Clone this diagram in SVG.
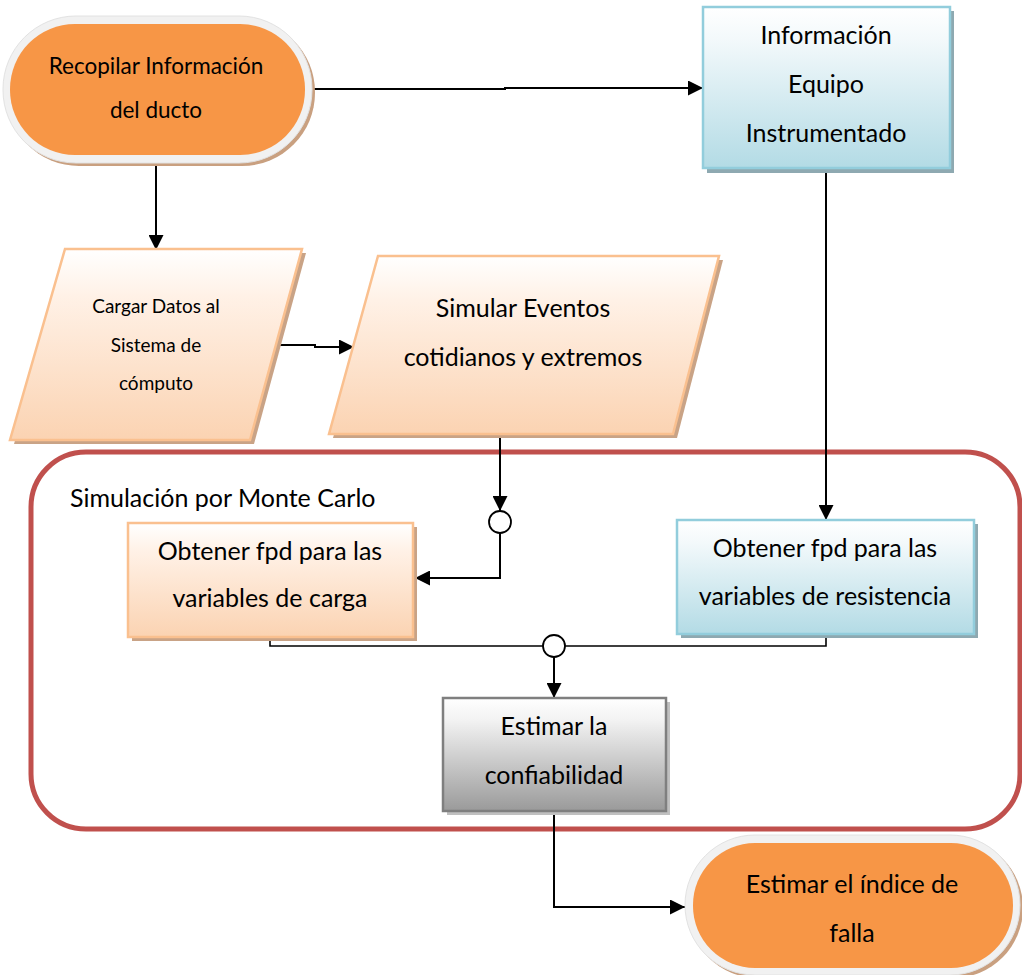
<svg xmlns="http://www.w3.org/2000/svg" width="1022" height="975" viewBox="0 0 1022 975">
  <style>
    .t { font-family: Lato, "Open Sans", "Liberation Sans", sans-serif; fill: #000; text-anchor: middle; }
    .big { font-size: 25px; }
    .mid { font-size: 22.5px; }
    .small { font-size: 19px; }
    .line { fill: none; stroke: #000; stroke-width: 2; }
    .thin { fill: none; stroke: #000; stroke-width: 1.6; }
    .join { fill: #fff; stroke: #000; stroke-width: 1.8; }
    .ring { fill: #f1f1f1; stroke: #e2e2e2; stroke-width: 1; }
    .term { fill: #f79646; }
    .termShadow { fill: #c9a080; }
    .peach { fill: url(#gPeach); stroke: #fac08f; stroke-width: 2.5; }
    .peachShadow { fill: #c9a386; }
    .blue { fill: url(#gBlue); stroke: #92cddc; stroke-width: 2.5; }
    .blueShadow { fill: #8ea9b1; }
    .gray { fill: url(#gGray); stroke: #7f7f7f; stroke-width: 2.5; }
    .grayShadow { fill: #c0c0c0; }
  </style>
  <defs>
    <linearGradient id="gPeach" x1="0" y1="0" x2="0" y2="1">
      <stop offset="0" stop-color="#ffffff"/>
      <stop offset="0.25" stop-color="#fff1e6"/>
      <stop offset="1" stop-color="#fbd3b2"/>
    </linearGradient>
    <linearGradient id="gBlue" x1="0" y1="0" x2="0" y2="1">
      <stop offset="0" stop-color="#ffffff"/>
      <stop offset="0.2" stop-color="#f3f9fb"/>
      <stop offset="1" stop-color="#b3dbe5"/>
    </linearGradient>
    <linearGradient id="gGray" x1="0" y1="0" x2="0" y2="1">
      <stop offset="0" stop-color="#ffffff"/>
      <stop offset="0.2" stop-color="#f2f2f2"/>
      <stop offset="1" stop-color="#9a9a9a"/>
    </linearGradient>
    <marker id="arrow" markerUnits="userSpaceOnUse" markerWidth="15" markerHeight="15" viewBox="0 0 15 15" refX="15" refY="7.5" orient="auto">
      <path d="M0,0 L15,7.5 L0,15 z" fill="#000"/>
    </marker>
  </defs>

  <!-- Monte Carlo container -->
  <g id="monte-carlo">
    <rect x="31" y="452" width="989" height="377" rx="55" ry="55" fill="none" stroke="#c0504d" stroke-width="5"/>
    <text class="t big" x="70" y="507" style="text-anchor:start">Simulación por Monte Carlo</text>
  </g>

  <!-- Connectors -->
  <g id="connectors">
    <path class="line" d="M312,89 H505 V88 H703" marker-end="url(#arrow)"/>
    <path class="line" d="M156,163 V250" marker-end="url(#arrow)"/>
    <path class="line" d="M273,345 H315 V347 H354" marker-end="url(#arrow)"/>
    <path class="line" d="M500,434 V511" marker-end="url(#arrow)"/>
    <path class="line" d="M500,533 V578 H415" marker-end="url(#arrow)"/>
    <circle class="join" cx="500" cy="522" r="11"/>
    <path class="line" d="M826,168 V520" marker-end="url(#arrow)"/>
    <path class="thin" d="M270,637 V646 H826 V634"/>
    <path class="line" d="M554,657 V698" marker-end="url(#arrow)"/>
    <circle class="join" cx="554" cy="646" r="11"/>
    <path class="line" d="M554,811 V907 H685" marker-end="url(#arrow)"/>
  </g>

  <!-- Start terminator -->
  <g id="recopilar">
    <rect class="termShadow" x="6" y="19" width="309" height="147" rx="73" ry="73"/>
    <rect class="ring" x="3" y="16" width="309" height="147" rx="73" ry="73"/>
    <rect class="term" x="10" y="24" width="295" height="131" rx="65" ry="65"/>
    <text class="t mid" x="156" y="74">Recopilar Información</text>
    <text class="t mid" x="156" y="118">del ducto</text>
  </g>

  <!-- Instrument equipment info -->
  <g id="info-equipo">
    <rect class="blueShadow" x="707" y="11" width="247" height="162"/>
    <rect class="blue" x="703" y="7" width="247" height="161"/>
    <text class="t big" x="826" y="44">Información</text>
    <text class="t big" x="826" y="93">Equipo</text>
    <text class="t big" x="826" y="142">Instrumentado</text>
  </g>

  <!-- Load data -->
  <g id="cargar-datos">
    <polygon class="peachShadow" points="69,253 306,253 254,444 14,444"/>
    <polygon class="peach" points="65,249 302,249 250,440 10,440"/>
    <text class="t small" x="156" y="313">Cargar Datos al</text>
    <text class="t small" x="156" y="352">Sistema de</text>
    <text class="t small" x="156" y="390">cómputo</text>
  </g>

  <!-- Simulate events -->
  <g id="simular-eventos">
    <polygon class="peachShadow" points="382,260 723,260 677,438 333,438"/>
    <polygon class="peach" points="378,256 719,256 673,434 329,434"/>
    <text class="t big" x="523" y="317">Simular Eventos</text>
    <text class="t big" x="523" y="366">cotidianos y extremos</text>
  </g>

  <!-- Load variables -->
  <g id="fpd-carga">
    <rect class="peachShadow" x="132" y="527" width="285" height="114"/>
    <rect class="peach" x="128" y="523" width="285" height="114"/>
    <text class="t big" x="270" y="560">Obtener fpd para las</text>
    <text class="t big" x="270" y="607">variables de carga</text>
  </g>

  <!-- Resistance variables -->
  <g id="fpd-resistencia">
    <rect class="blueShadow" x="681" y="524" width="297" height="114"/>
    <rect class="blue" x="677" y="520" width="297" height="114"/>
    <text class="t big" x="825" y="557">Obtener fpd para las</text>
    <text class="t big" x="825" y="605">variables de resistencia</text>
  </g>

  <!-- Reliability -->
  <g id="confiabilidad">
    <rect class="grayShadow" x="447" y="702" width="223" height="113"/>
    <rect class="gray" x="443" y="698" width="223" height="113"/>
    <text class="t big" x="554" y="735">Estimar la</text>
    <text class="t big" x="554" y="784">confiabilidad</text>
  </g>

  <!-- End terminator -->
  <g id="indice-falla">
    <rect class="termShadow" x="688" y="838" width="335" height="140" rx="70" ry="70"/>
    <rect class="ring" x="685" y="835" width="335" height="140" rx="70" ry="70"/>
    <rect class="term" x="693" y="843" width="320" height="125" rx="62" ry="62"/>
    <text class="t big" x="852" y="893">Estimar el índice de</text>
    <text class="t big" x="852" y="942">falla</text>
  </g>
</svg>
